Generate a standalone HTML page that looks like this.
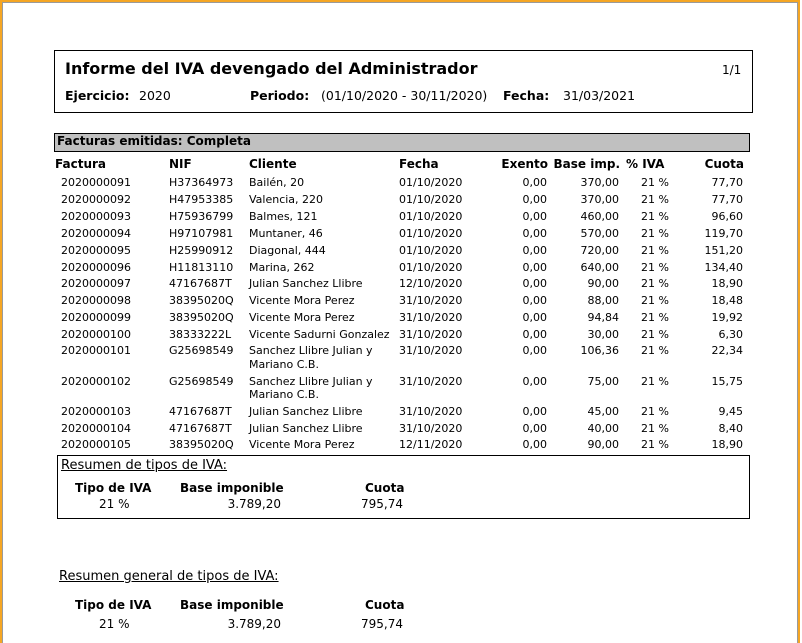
<!DOCTYPE html>
<html><head><meta charset="utf-8"><style>
html,body{margin:0;padding:0;background:#fff}
body{width:802px;height:643px;position:relative;overflow:hidden;font-family:"DejaVu Sans","Liberation Sans",sans-serif;font-size:11px;color:#000}
.frame{position:absolute;left:0;top:0;width:800px;height:643px;border-top:2px solid #f5a623;border-left:2px solid #f5a623;border-right:2px solid #f5a623;box-sizing:border-box}
.frame2{position:absolute;left:2px;top:2px;width:796px;height:641px;border:1px solid #9a9a9a;border-bottom:none;box-sizing:border-box}
.t{position:absolute;white-space:nowrap;line-height:13px}
.b{font-weight:bold}
.r{text-align:right}
.box{position:absolute;border:1px solid #000;box-sizing:border-box}
.h2{font-size:12.5px;top:89px}
</style></head><body>
<div class="frame"></div><div class="frame2"></div>

<div class="box" style="left:54px;top:50px;width:699px;height:63px"></div>
<div class="t b" style="left:65px;top:59px;font-size:16px;line-height:20px">Informe del IVA devengado del Administrador</div>
<div class="t" style="left:722px;top:64px;font-size:12px">1/1</div>
<div class="t b h2" style="left:65px">Ejercicio:</div>
<div class="t h2" style="left:139px">2020</div>
<div class="t b h2" style="left:250px">Periodo:</div>
<div class="t h2" style="left:321px">(01/10/2020 - 30/11/2020)</div>
<div class="t b h2" style="left:503px">Fecha:</div>
<div class="t h2" style="left:563px">31/03/2021</div>

<div class="box" style="left:54px;top:133px;width:696px;height:19px;background:#c0c0c0"></div>
<div class="t b" style="left:57px;top:135px;font-size:12px">Facturas emitidas: Completa</div>

<div class="t b" style="left:55px;top:158px;font-size:12px">Factura</div>
<div class="t b" style="left:169px;top:158px;font-size:12px">NIF</div>
<div class="t b" style="left:249px;top:158px;font-size:12px">Cliente</div>
<div class="t b" style="left:399px;top:158px;font-size:12px">Fecha</div>
<div class="t b r" style="right:254px;top:158px;font-size:12px">Exento</div>
<div class="t b r" style="right:182px;top:158px;font-size:12px">Base imp.</div>
<div class="t b" style="left:626px;top:158px;font-size:12px">% IVA</div>
<div class="t b r" style="right:58px;top:158px;font-size:12px">Cuota</div>

<div class="t" style="left:61px;top:176px">2020000091</div><div class="t" style="left:169px;top:176px">H37364973</div><div class="t" style="left:249px;top:176px">Bailén, 20</div><div class="t" style="left:399px;top:176px">01/10/2020</div><div class="t r" style="right:255px;top:176px">0,00</div><div class="t r" style="right:183px;top:176px">370,00</div><div class="t r" style="right:133px;top:176px">21 %</div><div class="t r" style="right:59px;top:176px">77,70</div>
<div class="t" style="left:61px;top:193px">2020000092</div><div class="t" style="left:169px;top:193px">H47953385</div><div class="t" style="left:249px;top:193px">Valencia, 220</div><div class="t" style="left:399px;top:193px">01/10/2020</div><div class="t r" style="right:255px;top:193px">0,00</div><div class="t r" style="right:183px;top:193px">370,00</div><div class="t r" style="right:133px;top:193px">21 %</div><div class="t r" style="right:59px;top:193px">77,70</div>
<div class="t" style="left:61px;top:210px">2020000093</div><div class="t" style="left:169px;top:210px">H75936799</div><div class="t" style="left:249px;top:210px">Balmes, 121</div><div class="t" style="left:399px;top:210px">01/10/2020</div><div class="t r" style="right:255px;top:210px">0,00</div><div class="t r" style="right:183px;top:210px">460,00</div><div class="t r" style="right:133px;top:210px">21 %</div><div class="t r" style="right:59px;top:210px">96,60</div>
<div class="t" style="left:61px;top:227px">2020000094</div><div class="t" style="left:169px;top:227px">H97107981</div><div class="t" style="left:249px;top:227px">Muntaner, 46</div><div class="t" style="left:399px;top:227px">01/10/2020</div><div class="t r" style="right:255px;top:227px">0,00</div><div class="t r" style="right:183px;top:227px">570,00</div><div class="t r" style="right:133px;top:227px">21 %</div><div class="t r" style="right:59px;top:227px">119,70</div>
<div class="t" style="left:61px;top:244px">2020000095</div><div class="t" style="left:169px;top:244px">H25990912</div><div class="t" style="left:249px;top:244px">Diagonal, 444</div><div class="t" style="left:399px;top:244px">01/10/2020</div><div class="t r" style="right:255px;top:244px">0,00</div><div class="t r" style="right:183px;top:244px">720,00</div><div class="t r" style="right:133px;top:244px">21 %</div><div class="t r" style="right:59px;top:244px">151,20</div>
<div class="t" style="left:61px;top:261px">2020000096</div><div class="t" style="left:169px;top:261px">H11813110</div><div class="t" style="left:249px;top:261px">Marina, 262</div><div class="t" style="left:399px;top:261px">01/10/2020</div><div class="t r" style="right:255px;top:261px">0,00</div><div class="t r" style="right:183px;top:261px">640,00</div><div class="t r" style="right:133px;top:261px">21 %</div><div class="t r" style="right:59px;top:261px">134,40</div>
<div class="t" style="left:61px;top:277px">2020000097</div><div class="t" style="left:169px;top:277px">47167687T</div><div class="t" style="left:249px;top:277px">Julian Sanchez Llibre</div><div class="t" style="left:399px;top:277px">12/10/2020</div><div class="t r" style="right:255px;top:277px">0,00</div><div class="t r" style="right:183px;top:277px">90,00</div><div class="t r" style="right:133px;top:277px">21 %</div><div class="t r" style="right:59px;top:277px">18,90</div>
<div class="t" style="left:61px;top:294px">2020000098</div><div class="t" style="left:169px;top:294px">38395020Q</div><div class="t" style="left:249px;top:294px">Vicente Mora Perez</div><div class="t" style="left:399px;top:294px">31/10/2020</div><div class="t r" style="right:255px;top:294px">0,00</div><div class="t r" style="right:183px;top:294px">88,00</div><div class="t r" style="right:133px;top:294px">21 %</div><div class="t r" style="right:59px;top:294px">18,48</div>
<div class="t" style="left:61px;top:311px">2020000099</div><div class="t" style="left:169px;top:311px">38395020Q</div><div class="t" style="left:249px;top:311px">Vicente Mora Perez</div><div class="t" style="left:399px;top:311px">31/10/2020</div><div class="t r" style="right:255px;top:311px">0,00</div><div class="t r" style="right:183px;top:311px">94,84</div><div class="t r" style="right:133px;top:311px">21 %</div><div class="t r" style="right:59px;top:311px">19,92</div>
<div class="t" style="left:61px;top:328px">2020000100</div><div class="t" style="left:169px;top:328px">38333222L</div><div class="t" style="left:249px;top:328px">Vicente Sadurni Gonzalez</div><div class="t" style="left:399px;top:328px">31/10/2020</div><div class="t r" style="right:255px;top:328px">0,00</div><div class="t r" style="right:183px;top:328px">30,00</div><div class="t r" style="right:133px;top:328px">21 %</div><div class="t r" style="right:59px;top:328px">6,30</div>
<div class="t" style="left:61px;top:344px">2020000101</div><div class="t" style="left:169px;top:344px">G25698549</div><div class="t" style="left:249px;top:344px">Sanchez Llibre Julian y</div><div class="t" style="left:249px;top:358px">Mariano C.B.</div><div class="t" style="left:399px;top:344px">31/10/2020</div><div class="t r" style="right:255px;top:344px">0,00</div><div class="t r" style="right:183px;top:344px">106,36</div><div class="t r" style="right:133px;top:344px">21 %</div><div class="t r" style="right:59px;top:344px">22,34</div>
<div class="t" style="left:61px;top:375px">2020000102</div><div class="t" style="left:169px;top:375px">G25698549</div><div class="t" style="left:249px;top:375px">Sanchez Llibre Julian y</div><div class="t" style="left:249px;top:388px">Mariano C.B.</div><div class="t" style="left:399px;top:375px">31/10/2020</div><div class="t r" style="right:255px;top:375px">0,00</div><div class="t r" style="right:183px;top:375px">75,00</div><div class="t r" style="right:133px;top:375px">21 %</div><div class="t r" style="right:59px;top:375px">15,75</div>
<div class="t" style="left:61px;top:405px">2020000103</div><div class="t" style="left:169px;top:405px">47167687T</div><div class="t" style="left:249px;top:405px">Julian Sanchez Llibre</div><div class="t" style="left:399px;top:405px">31/10/2020</div><div class="t r" style="right:255px;top:405px">0,00</div><div class="t r" style="right:183px;top:405px">45,00</div><div class="t r" style="right:133px;top:405px">21 %</div><div class="t r" style="right:59px;top:405px">9,45</div>
<div class="t" style="left:61px;top:422px">2020000104</div><div class="t" style="left:169px;top:422px">47167687T</div><div class="t" style="left:249px;top:422px">Julian Sanchez Llibre</div><div class="t" style="left:399px;top:422px">31/10/2020</div><div class="t r" style="right:255px;top:422px">0,00</div><div class="t r" style="right:183px;top:422px">40,00</div><div class="t r" style="right:133px;top:422px">21 %</div><div class="t r" style="right:59px;top:422px">8,40</div>
<div class="t" style="left:61px;top:438px">2020000105</div><div class="t" style="left:169px;top:438px">38395020Q</div><div class="t" style="left:249px;top:438px">Vicente Mora Perez</div><div class="t" style="left:399px;top:438px">12/11/2020</div><div class="t r" style="right:255px;top:438px">0,00</div><div class="t r" style="right:183px;top:438px">90,00</div><div class="t r" style="right:133px;top:438px">21 %</div><div class="t r" style="right:59px;top:438px">18,90</div>

<div class="box" style="left:57px;top:455px;width:693px;height:64px"></div>
<div class="t" style="left:61px;top:459px;text-decoration:underline;font-size:13px">Resumen de tipos de IVA:</div>
<div class="t b" style="left:75px;top:482px;font-size:12px">Tipo de IVA</div>
<div class="t b" style="left:180px;top:482px;font-size:12px">Base imponible</div>
<div class="t b" style="left:365px;top:482px;font-size:12px">Cuota</div>
<div class="t" style="left:99px;top:498px;font-size:12px">21 %</div>
<div class="t r" style="right:521px;top:498px;font-size:12px">3.789,20</div>
<div class="t r" style="right:399px;top:498px;font-size:12px">795,74</div>

<div class="t" style="left:59px;top:570px;text-decoration:underline;font-size:13px">Resumen general de tipos de IVA:</div>
<div class="t b" style="left:75px;top:599px;font-size:12px">Tipo de IVA</div>
<div class="t b" style="left:180px;top:599px;font-size:12px">Base imponible</div>
<div class="t b" style="left:365px;top:599px;font-size:12px">Cuota</div>
<div class="t" style="left:99px;top:618px;font-size:12px">21 %</div>
<div class="t r" style="right:521px;top:618px;font-size:12px">3.789,20</div>
<div class="t r" style="right:399px;top:618px;font-size:12px">795,74</div>
</body></html>
